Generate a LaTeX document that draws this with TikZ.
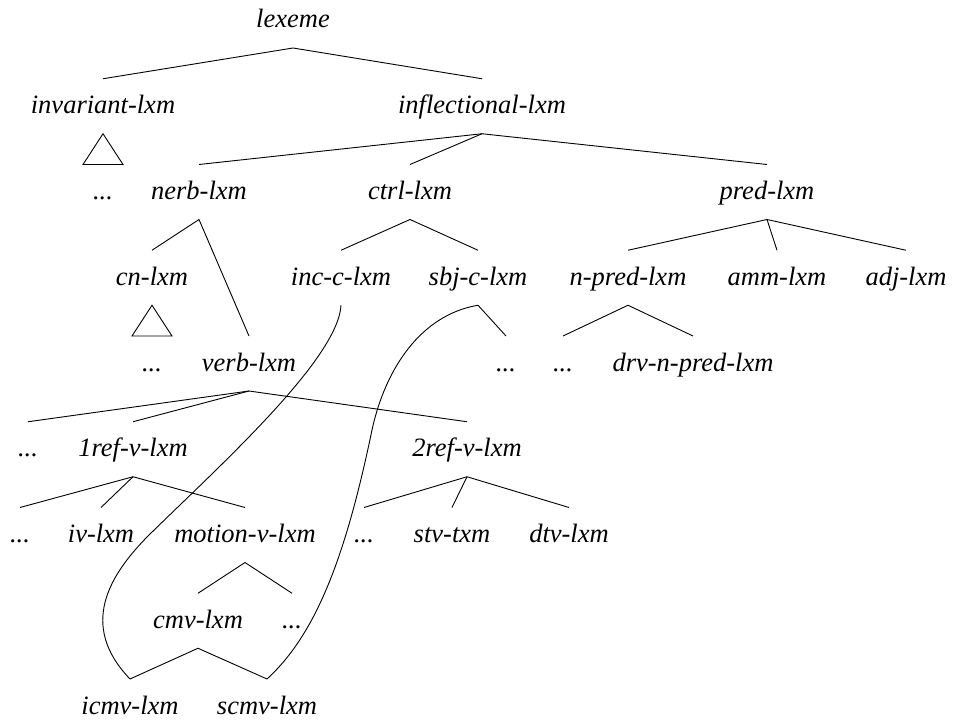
\documentclass[tikz,border=0pt]{standalone}
\usepackage{fontspec}
\setmainfont{Liberation Serif}
\begin{document}
\begin{tikzpicture}[x=1pt, y=-1pt,
  lbl/.style={anchor=base, inner sep=0pt, outer sep=0pt,
              text height=35pt, text depth=20pt,
              font=\fontsize{26.5}{30}\selectfont\itshape},
  edge/.style={line width=0.9pt, line join=miter}]
\useasboundingbox (0,0) rectangle (953,722);

% row baselines
\def\rA{28}\def\rB{113.75}\def\rC{199.5}\def\rD{285.25}\def\rE{371}
\def\rF{456.75}\def\rG{542.5}\def\rH{628.25}\def\rI{714}

% labels
\node[lbl] (lexeme)  at (293,\rA) {lexeme};
\node[lbl] (inv)     at (103,\rB) {invariant-lxm};
\node[lbl] (infl)    at (482,\rB) {inflectional-lxm};
\node[lbl] (dA)      at (103,\rC) {...};
\node[lbl] (nerb)    at (199,\rC) {nerb-lxm};
\node[lbl] (ctrl)    at (410,\rC) {ctrl-lxm};
\node[lbl] (pred)    at (767,\rC) {pred-lxm};
\node[lbl] (cn)      at (152,\rD) {cn-lxm};
\node[lbl] (inc)     at (341,\rD) {inc-c-lxm};
\node[lbl] (sbj)     at (478,\rD) {sbj-c-lxm};
\node[lbl] (npred)   at (628,\rD) {n-pred-lxm};
\node[lbl] (amm)     at (777,\rD) {amm-lxm};
\node[lbl] (adj)     at (906,\rD) {adj-lxm};
\node[lbl] (dB)      at (152,\rE) {...};
\node[lbl] (verb)    at (249,\rE) {verb-lxm};
\node[lbl] (dC)      at (506,\rE) {...};
\node[lbl] (dD)      at (563,\rE) {...};
\node[lbl] (drv)     at (693,\rE) {drv-n-pred-lxm};
\node[lbl] (dE)      at (28,\rF)  {...};
\node[lbl] (oneref)  at (133,\rF) {1ref-v-lxm};
\node[lbl] (tworef)  at (467,\rF) {2ref-v-lxm};
\node[lbl] (dF)      at (20,\rG)  {...};
\node[lbl] (iv)      at (101,\rG) {iv-lxm};
\node[lbl] (motion)  at (245,\rG) {motion-v-lxm};
\node[lbl] (dG)      at (364,\rG) {...};
\node[lbl] (stv)     at (452,\rG) {stv-txm};
\node[lbl] (dtv)     at (569,\rG) {dtv-lxm};
\node[lbl] (cmv)     at (198,\rH) {cmv-lxm};
\node[lbl] (dH)      at (292,\rH) {...};
\node[lbl] (icmv)    at (130,\rI) {icmv-lxm};
\node[lbl] (scmv)    at (267,\rI) {scmv-lxm};

% tree branches
\draw[edge] (inv.north) -- (lexeme.south) -- (infl.north);
\draw[edge] (infl.south) -- (nerb.north);
\draw[edge] (infl.south) -- (ctrl.north);
\draw[edge] (infl.south) -- (pred.north);
\draw[edge] (cn.north) -- (nerb.south) -- (verb.north);
\draw[edge] (inc.north) -- (ctrl.south) -- (sbj.north);
\draw[edge] (pred.south) -- (npred.north);
\draw[edge] (pred.south) -- (amm.north);
\draw[edge] (pred.south) -- (adj.north);
\draw[edge] (sbj.south) -- (dC.north);
\draw[edge] (dD.north) -- (npred.south) -- (drv.north);
\draw[edge] (verb.south) -- (dE.north);
\draw[edge] (verb.south) -- (oneref.north);
\draw[edge] (verb.south) -- (tworef.north);
\draw[edge] (oneref.south) -- (dF.north);
\draw[edge] (oneref.south) -- (iv.north);
\draw[edge] (oneref.south) -- (motion.north);
\draw[edge] (tworef.south) -- (dG.north);
\draw[edge] (tworef.south) -- (stv.north);
\draw[edge] (tworef.south) -- (dtv.north);
\draw[edge] (cmv.north) -- (motion.south) -- (dH.north);
\draw[edge] (icmv.north) -- (cmv.south) -- (scmv.north);

% collapsed subtrees
\draw[edge] (inv.south) -- ([xshift=-20pt]dA.north) -- ([xshift=20pt]dA.north) -- cycle;
\draw[edge] (cn.south) -- ([xshift=-20pt]dB.north) -- ([xshift=20pt]dB.north) -- cycle;

% multiple-inheritance links
\draw[edge] (inc.south)
  .. controls (338,360) and (215,470) .. (147,537)
  .. controls (110,575) and (78,625) .. (icmv.north);
\draw[edge] (sbj.south)
  .. controls (420,315) and (385,370) .. (372,430)
  .. controls (345,560) and (315,635) .. (scmv.north);
\end{tikzpicture}
\end{document}
